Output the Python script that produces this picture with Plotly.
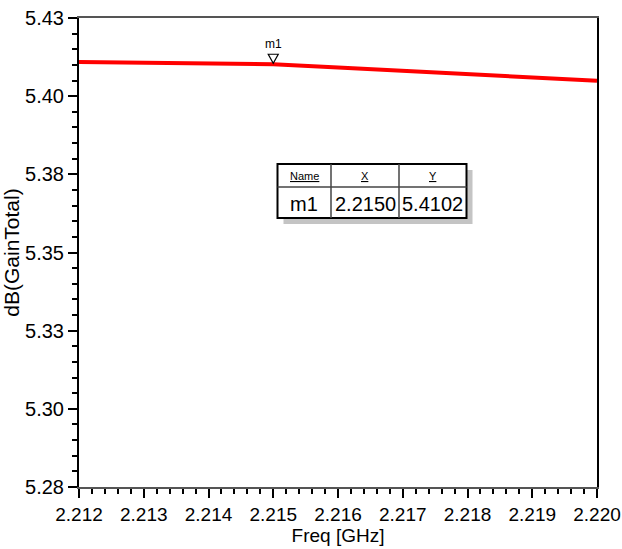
import plotly.graph_objects as go

# ---- data ----
freq_ghz = [2.212, 2.213, 2.214, 2.215, 2.216, 2.217, 2.218, 2.219, 2.220]
gain_db = [5.4109, 5.4107, 5.4105, 5.4102, 5.4092, 5.4081, 5.4071, 5.4060, 5.4049]

marker_name = "m1"
marker_x = 2.2150
marker_y = 5.4102

y_tickvals = [5.275, 5.300, 5.325, 5.350, 5.375, 5.400, 5.425]
y_ticktext = ["5.28", "5.30", "5.33", "5.35", "5.38", "5.40", "5.43"]
x_tickvals = [2.212, 2.213, 2.214, 2.215, 2.216, 2.217, 2.218, 2.219, 2.220]
x_ticktext = ["2.212", "2.213", "2.214", "2.215", "2.216", "2.217", "2.218", "2.219", "2.220"]

FONT = "Liberation Sans, Arial, sans-serif"
FS = 20

fig = go.Figure()
fig.add_trace(go.Scatter(
    x=freq_ghz, y=gain_db, mode="lines",
    line=dict(color="#ff0000", width=4),
    showlegend=False, hoverinfo="x+y",
))

# marker triangle (pixel-sized, tip on the curve)
fig.add_shape(
    type="path", xref="x", yref="y",
    xsizemode="pixel", ysizemode="pixel",
    xanchor=marker_x, yanchor=marker_y,
    path="M -5,10 L 5,10 L 0,1 Z",
    line=dict(color="black", width=1.2), fillcolor="white",
)
fig.add_annotation(
    x=marker_x, y=marker_y, xref="x", yref="y",
    text=marker_name, showarrow=False, yanchor="bottom", xanchor="center",
    yshift=11, font=dict(family=FONT, size=12, color="black"),
)

# marker table
W, H = 518.0, 469.0
def px(v):
    return (v - 79) / W
def py(v):
    return (487 - v) / H

x0, x1, c1, c2 = 277.5, 466.5, 331, 399
y0, ym, y1 = 164, 187, 218
sh = 6
fig.add_shape(type="rect", xref="paper", yref="paper",
              x0=px(x0 + sh), x1=px(x1 + sh), y0=py(y1 + sh), y1=py(y0 + sh),
              line=dict(width=0), fillcolor="#c4c4c4", layer="above")
fig.add_shape(type="rect", xref="paper", yref="paper",
              x0=px(x0), x1=px(x1), y0=py(y1), y1=py(y0),
              line=dict(color="black", width=2), fillcolor="white", layer="above")
fig.add_shape(type="line", xref="paper", yref="paper",
              x0=px(x0), x1=px(x1), y0=py(ym), y1=py(ym),
              line=dict(color="#444", width=1.5), layer="above")
for cx in (c1, c2):
    fig.add_shape(type="line", xref="paper", yref="paper",
                  x0=px(cx), x1=px(cx), y0=py(y1), y1=py(y0),
                  line=dict(color="#444", width=1.5), layer="above")

hdr = ["Name", "X", "Y"]
row = [marker_name, f"{marker_x:.4f}", f"{marker_y:.4f}"]
centers = [(x0 + c1) / 2, (c1 + c2) / 2, (c2 + x1) / 2]
for cx, h, r in zip(centers, hdr, row):
    fig.add_annotation(x=px(cx), y=py((y0 + ym) / 2), xref="paper", yref="paper",
                       xanchor="center", yanchor="middle",
                       text=f"<u>{h}</u>", showarrow=False,
                       font=dict(family=FONT, size=11, color="black"))
    fig.add_annotation(x=px(cx), y=py((ym + y1) / 2 + 1), xref="paper", yref="paper",
                       xanchor="center", yanchor="middle",
                       text=r, showarrow=False,
                       font=dict(family=FONT, size=20, color="black"))

fig.update_layout(
    width=622, height=549,
    margin=dict(l=79, r=25, t=18, b=62),
    paper_bgcolor="white", plot_bgcolor="white",
    font=dict(family=FONT, size=FS, color="black"),
    showlegend=False,
    xaxis=dict(
        range=[2.21199999, 2.22000001], automargin=False,
        tickvals=x_tickvals, ticktext=x_ticktext,
        ticks="outside", ticklen=9, tickwidth=2, tickcolor="black",
        minor=dict(dtick=0.0002, tick0=2.212, ticks="outside", ticklen=5,
                   tickwidth=2, tickcolor="black", showgrid=False),
        showline=True, linecolor="#555", linewidth=2, mirror=True,
        showgrid=False, zeroline=False,
        title=dict(text="Freq [GHz]", standoff=0,
                   font=dict(family=FONT, size=19)),
        tickfont=dict(family=FONT, size=19),
    ),
    yaxis=dict(
        range=[5.275, 5.425], automargin=False,
        tickvals=y_tickvals, ticktext=y_ticktext,
        ticks="outside", ticklen=9, tickwidth=2, tickcolor="black",
        minor=dict(dtick=0.005, tick0=5.275, ticks="outside", ticklen=5,
                   tickwidth=2, tickcolor="black", showgrid=False),
        showline=True, linecolor="black", linewidth=2, mirror=True,
        showgrid=False, zeroline=False,
        title=dict(text="dB(GainTotal)", standoff=0,
                   font=dict(family=FONT, size=21)),
        tickfont=dict(family=FONT, size=FS),
    ),
)

fig.write_html(
    "out.html",
    config={"displayModeBar": False},
    post_script="document.body.style.margin='0';document.body.style.overflow='hidden';",
)
